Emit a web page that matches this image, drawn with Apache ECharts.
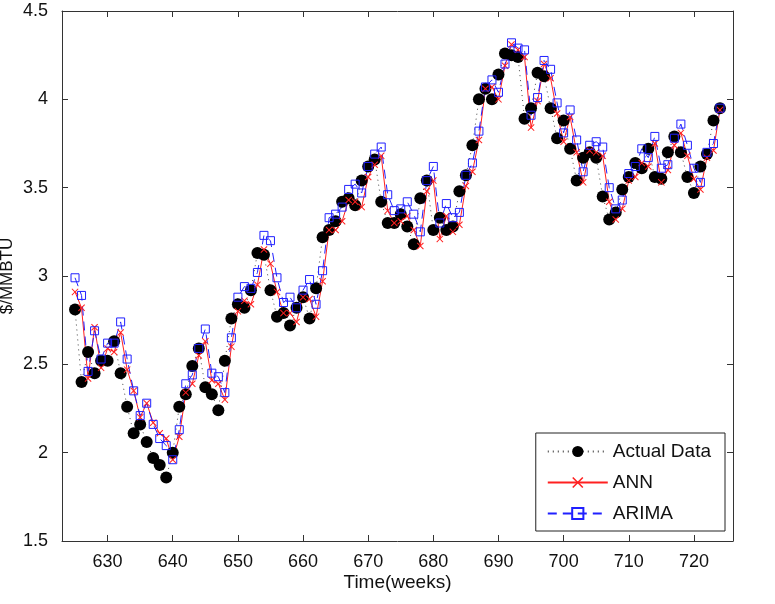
<!DOCTYPE html>
<html>
<head>
<meta charset="utf-8">
<script src="https://cdn.jsdelivr.net/npm/echarts@6/dist/echarts.min.js"></script>
<style>
  html, body { margin: 0; padding: 0; background: #fff; }
  #chart { width: 775px; height: 604px; }
</style>
</head>
<body>
<div id="chart"></div>
<script>
// weekly gas price, weeks 625..724
var startWeek = 625;
var actualData = [2.81, 2.40, 2.57, 2.45, 2.52, 2.52, 2.63, 2.45, 2.26, 2.11,
  2.16, 2.06, 1.97, 1.93, 1.86, 2.00, 2.26, 2.33, 2.49, 2.59,
  2.37, 2.33, 2.24, 2.52, 2.76, 2.84, 2.82, 2.92, 3.13, 3.12,
  2.92, 2.77, 2.79, 2.72, 2.82, 2.88, 2.76, 2.93, 3.22, 3.26,
  3.31, 3.42, 3.44, 3.40, 3.54, 3.62, 3.66, 3.42, 3.30, 3.30,
  3.35, 3.28, 3.18, 3.44, 3.54, 3.26, 3.33, 3.26, 3.28, 3.48,
  3.57, 3.74, 4.00, 4.06, 4.00, 4.14, 4.26, 4.25, 4.24, 3.89,
  3.95, 4.15, 4.13, 3.95, 3.78, 3.88, 3.72, 3.54, 3.67, 3.70,
  3.67, 3.45, 3.32, 3.36, 3.49, 3.56, 3.64, 3.61, 3.72, 3.56,
  3.55, 3.70, 3.79, 3.70, 3.56, 3.47, 3.62, 3.69, 3.88, 3.95];
var annData = [2.91, 2.82, 2.42, 2.71, 2.48, 2.59, 2.57, 2.68, 2.47, 2.35,
  2.20, 2.28, 2.17, 2.11, 2.08, 1.96, 2.09, 2.34, 2.39, 2.55,
  2.63, 2.41, 2.39, 2.30, 2.60, 2.80, 2.86, 2.84, 2.95, 3.15,
  3.07, 2.91, 2.79, 2.79, 2.74, 2.88, 2.87, 2.77, 2.97, 3.26,
  3.26, 3.31, 3.43, 3.42, 3.39, 3.56, 3.63, 3.68, 3.37, 3.30,
  3.31, 3.34, 3.26, 3.17, 3.48, 3.54, 3.21, 3.34, 3.25, 3.29,
  3.51, 3.59, 3.77, 4.06, 4.07, 4.00, 4.19, 4.31, 4.28, 4.24,
  3.84, 3.99, 4.20, 4.12, 3.92, 3.76, 3.90, 3.70, 3.53, 3.71,
  3.70, 3.68, 3.42, 3.32, 3.38, 3.54, 3.56, 3.64, 3.62, 3.75,
  3.53, 3.60, 3.74, 3.81, 3.68, 3.55, 3.49, 3.67, 3.71, 3.94];
var arimaData = [2.99, 2.89, 2.46, 2.69, 2.53, 2.62, 2.62, 2.74, 2.53, 2.35,
  2.21, 2.28, 2.16, 2.08, 2.04, 1.96, 2.13, 2.39, 2.44, 2.59,
  2.70, 2.45, 2.43, 2.34, 2.65, 2.88, 2.94, 2.93, 3.02, 3.23,
  3.20, 2.99, 2.85, 2.88, 2.82, 2.92, 2.98, 2.84, 3.03, 3.33,
  3.35, 3.39, 3.49, 3.52, 3.47, 3.62, 3.69, 3.73, 3.46, 3.37,
  3.38, 3.42, 3.35, 3.25, 3.54, 3.62, 3.30, 3.41, 3.33, 3.36,
  3.57, 3.64, 3.82, 4.07, 4.11, 4.04, 4.20, 4.32, 4.29, 4.28,
  3.91, 4.01, 4.22, 4.17, 3.98, 3.81, 3.94, 3.77, 3.59, 3.74,
  3.76, 3.73, 3.50, 3.38, 3.43, 3.58, 3.62, 3.72, 3.67, 3.79,
  3.61, 3.63, 3.78, 3.86, 3.74, 3.61, 3.53, 3.70, 3.75, 3.95];
var xTicks = [630, 640, 650, 660, 670, 680, 690, 700, 710, 720];
var seriesNames = ['Actual Data', 'ANN', 'ARIMA'];

function pairs(arr) {
  var out = [];
  for (var i = 0; i < arr.length; i++) out.push([startWeek + i, arr[i]]);
  return out;
}

var fontName = "'Liberation Sans', Arial, sans-serif";
var xMark = 'path://M0,1L1,0L5,4L9,0L10,1L6,5L10,9L9,10L5,6L1,10L0,9L4,5Z';

var chart = echarts.init(document.getElementById('chart'));
var option = {
  animation: false,
  backgroundColor: '#fff',
  textStyle: { fontFamily: fontName },
  grid: { left: 62, right: 42, top: 11, bottom: 63, outerBoundsMode: 'none', containLabel: false },
  legend: {
    data: seriesNames,
    orient: 'vertical',
    right: 50,
    bottom: 73,
    padding: [9, 14, 8, 11],
    itemGap: 12,
    itemWidth: 60,
    itemHeight: 14,
    borderColor: '#222',
    borderWidth: 1,
    borderRadius: 0,
    backgroundColor: '#fff',
    textStyle: { fontSize: 19, color: '#111', fontFamily: fontName }
  },
  xAxis: [
    {
      type: 'value', min: 623, max: 726,
      name: 'Time(weeks)', nameLocation: 'middle', nameGap: 32, nameMoveOverlap: false,
      nameTextStyle: { fontSize: 19, color: '#111' },
      axisLine: { onZero: false, lineStyle: { color: '#333', width: 1 } },
      axisTick: { inside: true, length: 6, customValues: xTicks, lineStyle: { color: '#333' } },
      axisLabel: { customValues: xTicks, fontSize: 18, color: '#111', margin: 12 },
      splitLine: { show: false }
    },
    {
      type: 'value', min: 623, max: 726, position: 'top',
      axisLine: { onZero: false, lineStyle: { color: '#333', width: 1 } },
      axisTick: { inside: true, length: 6, customValues: xTicks, lineStyle: { color: '#333' } },
      axisLabel: { show: false },
      splitLine: { show: false }
    }
  ],
  yAxis: [
    {
      type: 'value', min: 1.5, max: 4.5, interval: 0.5,
      name: '$/MMBTU', nameLocation: 'middle', nameGap: 46, nameMoveOverlap: false,
      nameTextStyle: { fontSize: 17, color: '#111' },
      axisLine: { show: true, onZero: false, lineStyle: { color: '#333', width: 1 } },
      axisTick: { show: true, inside: true, length: 6, lineStyle: { color: '#333' } },
      axisLabel: { fontSize: 18, color: '#111', margin: 14 },
      splitLine: { show: false }
    },
    {
      type: 'value', min: 1.5, max: 4.5, interval: 0.5, position: 'right',
      axisLine: { show: true, onZero: false, lineStyle: { color: '#333', width: 1 } },
      axisTick: { show: true, inside: true, length: 6, lineStyle: { color: '#333' } },
      axisLabel: { show: false },
      splitLine: { show: false }
    }
  ],
  series: [
    {
      name: seriesNames[0], type: 'line', data: pairs(actualData),
      symbol: 'circle', symbolSize: 12,
      color: '#000',
      itemStyle: { color: '#000' },
      lineStyle: { color: '#444', width: 1, type: [1, 4] }
    },
    {
      name: seriesNames[1], type: 'line', data: pairs(annData),
      symbol: xMark, symbolSize: 7,
      color: '#ff2020',
      itemStyle: { color: '#ff2020' },
      lineStyle: { color: '#ff2020', width: 1 }
    },
    {
      name: seriesNames[2], type: 'line', data: pairs(arimaData),
      symbol: 'rect', symbolSize: 8,
      color: '#2020ff',
      itemStyle: { color: 'rgba(0,0,0,0)', borderColor: '#2020ff', borderWidth: 1 },
      lineStyle: { color: '#2020ff', width: 1, type: [9, 6] }
    }
  ]
};
chart.setOption(option);
</script>
</body>
</html>
